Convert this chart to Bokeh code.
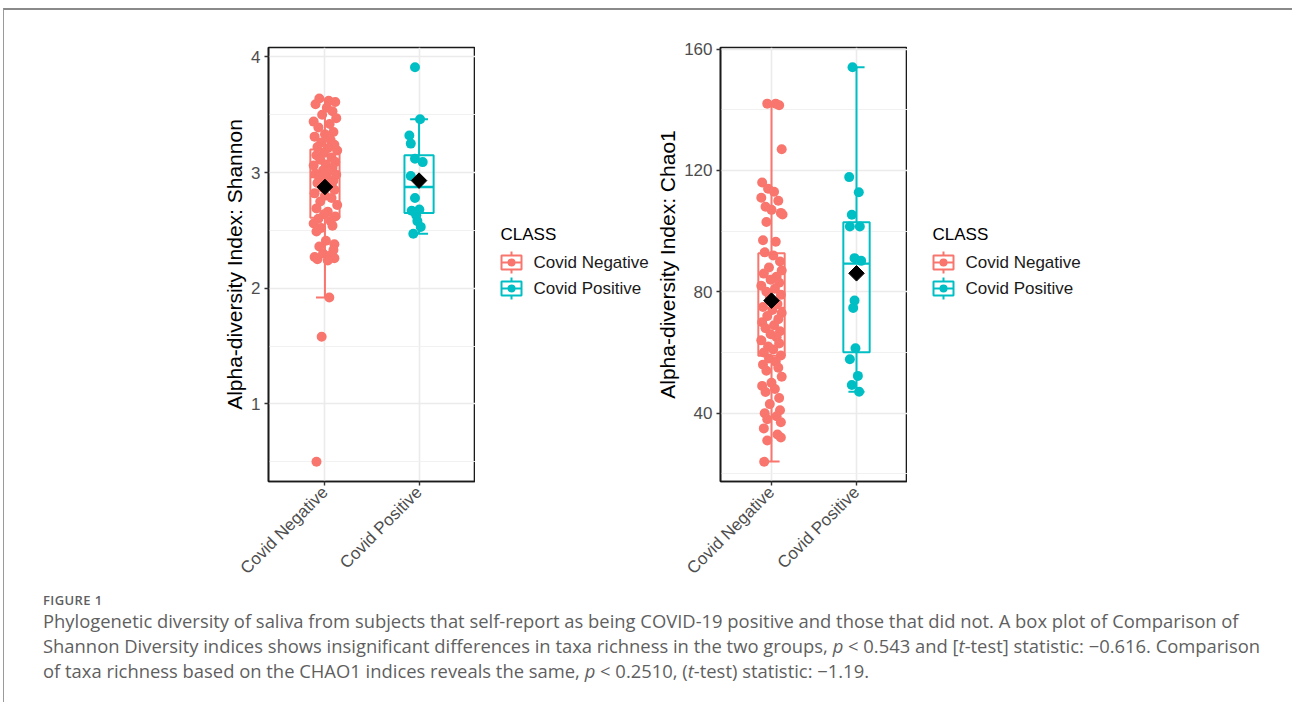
import numpy as np
from bokeh.plotting import figure
from bokeh.models import FixedTicker, Range1d, Div
from bokeh.core.properties import value
from bokeh.layouts import row, column
from bokeh.embed import file_html
from bokeh.resources import INLINE

# ---------------- data ----------------
categories = ["Covid Negative", "Covid Positive"]
colors = ["#F8766D", "#00BFC4"]
cat_x = [1, 2]
legend_title = "CLASS"

shannon_neg = [3.64, 3.62, 3.61, 3.59, 3.56, 3.53, 3.50, 3.47, 3.44, 3.42, 3.39, 3.35,
               3.33, 3.31, 3.28, 3.26, 3.24, 3.22, 3.21, 3.19, 3.17, 3.15, 3.13, 3.11,
               3.09, 3.07, 3.06, 3.04, 3.02, 3.01, 2.99, 2.98, 2.96, 2.95, 2.93, 2.91,
               2.89, 2.87, 2.85, 2.82, 2.80, 2.78, 2.75, 2.72, 2.69, 2.66, 2.64, 2.62,
               2.60, 2.58, 2.56, 2.54, 2.52, 2.49, 2.41, 2.38, 2.36, 2.33, 2.30, 2.28,
               2.27, 2.26, 2.25, 2.24, 1.92, 1.58, 0.50]
shannon_pos = [3.91, 3.46, 3.32, 3.25, 3.12, 3.09, 2.97, 2.78, 2.67, 2.68, 2.58, 2.53, 2.47, 2.63]

chao_neg = [142, 142, 141.5, 127, 116, 114, 113, 111, 110, 108, 107, 106, 105.5, 103,
            97, 96.5, 93, 92, 90, 88, 87, 86, 85, 84, 83, 82, 81, 80, 79, 78, 76, 75,
            74, 73, 72, 71, 70, 69, 68, 67, 66, 65, 64, 63, 62, 61, 60, 59, 58, 57,
            56, 55, 54, 52, 50, 49, 48, 47, 45, 43, 41, 40, 39, 38, 37, 35, 33, 32, 31, 24]
chao_pos = [154.0, 117.8, 112.8, 105.4, 101.5, 101.5, 91.1, 90.2, 77.1, 74.7, 61.4,
            57.8, 52.3, 49.3, 47.1]

# horizontal jitter offsets (category units)
jit_shannon_neg = [-0.06, 0.04, 0.11, -0.10, 0.02, 0.08, -0.03, 0.12, -0.12, 0.05, -0.07, 0.09,
                   0.00, -0.11, 0.06, -0.04, 0.10, -0.08, 0.03, 0.13, -0.01, -0.09, 0.07, -0.05,
                   0.11, 0.01, -0.12, 0.08, -0.02, 0.04, -0.10, 0.12, -0.06, 0.02, 0.09, -0.08,
                   0.05, -0.03, 0.10, -0.11, 0.00, 0.07, -0.05, 0.13, -0.09, 0.03, -0.01, 0.11,
                   -0.07, 0.06, -0.12, 0.08, -0.04, -0.09, 0.01, 0.10, -0.06, 0.09, -0.02, 0.05,
                   -0.11, 0.10, -0.08, 0.03, 0.046, -0.035, -0.09]
jit_shannon_pos = [-0.043, 0.011, -0.103, -0.088, -0.043, 0.039, -0.088, -0.043, -0.078,
                   0.003, -0.018, 0.018, -0.061, -0.03]
jit_chao_neg = [-0.05, 0.05, 0.09, 0.12, -0.11, -0.04, 0.03, -0.12, 0.08, -0.07, 0.00, 0.11,
                0.13, -0.06, -0.10, 0.05, -0.08, 0.02, 0.10, -0.03, 0.12, -0.09, 0.06, -0.01,
                0.09, -0.12, 0.04, -0.06, 0.11, -0.02, 0.07, -0.10, 0.01, 0.12, -0.05, 0.08,
                -0.11, 0.03, -0.07, 0.10, -0.01, 0.06, -0.12, 0.09, -0.04, 0.02, -0.09, 0.11,
                -0.03, 0.05, -0.10, 0.08, -0.06, 0.12, 0.00, -0.11, 0.04, -0.07, 0.09, -0.02,
                0.10, -0.08, 0.06, -0.05, 0.11, -0.09, 0.07, 0.11, -0.05, -0.086]
jit_chao_pos = [-0.047, -0.086, 0.027, -0.055, -0.078, 0.039, -0.023, 0.055, -0.023,
                -0.039, -0.012, -0.078, 0.016, -0.055, 0.031]

# box summaries: [negative, positive]
shannon_whisk_lo = [1.92, 2.47]
shannon_q1 = [2.61, 2.65]
shannon_median = [2.96, 2.875]
shannon_q3 = [3.20, 3.15]
shannon_whisk_hi = [3.63, 3.46]
shannon_mean = [2.875, 2.93]

chao_whisk_lo = [24.1, 47.1]
chao_q1 = [58.9, 60.1]
chao_median = [74.7, 89.3]
chao_q3 = [92.7, 102.9]
chao_whisk_hi = [141.9, 154.0]
chao_mean = [77.1, 86.1]

shannon_ticks = [1, 2, 3, 4]
shannon_minor = [0.5, 1.5, 2.5, 3.5]
chao_ticks = [40, 80, 120, 160]
chao_minor = [20, 60, 100, 140]

FONT = "Liberation Sans"
BOX_W = 0.31
CAP_W = 0.19
FRAME_H = 434


def make_panel(vals, jits, lo, q1, med, q3, hi, mean, ticks, minor, ylabel,
               frame_w, mbl):
    allv = vals[0] + vals[1]
    vmin, vmax = min(allv), max(allv)
    pad = 0.05 * (vmax - vmin)
    p = figure(frame_width=frame_w, frame_height=FRAME_H, x_range=Range1d(0.4, 2.6),
               y_range=Range1d(vmin - pad, vmax + pad),
               output_backend="svg", toolbar_location=None,
               min_border_left=mbl, min_border_right=0,
               min_border_top=37, min_border_bottom=100)
    p.background_fill_color = "white"
    p.border_fill_color = "white"
    p.outline_line_color = "#1a1a1a"
    p.outline_line_width = 1.6

    p.xaxis.ticker = FixedTicker(ticks=cat_x)
    p.xaxis.major_label_overrides = {1: categories[0], 2: categories[1]}
    p.xaxis.major_label_orientation = np.pi / 4
    p.yaxis.ticker = FixedTicker(ticks=ticks, minor_ticks=minor)
    p.yaxis.axis_label = ylabel
    for ax in (p.xaxis[0], p.yaxis[0]):
        ax.axis_line_color = "#1a1a1a"
        ax.axis_line_width = 1.6
        ax.major_tick_line_color = "#333333"
        ax.major_tick_line_width = 1.4
        ax.major_tick_out = 4
        ax.major_tick_in = 0
        ax.minor_tick_line_color = None
        ax.major_label_text_font = FONT
        ax.major_label_text_font_size = "17px"
        ax.major_label_text_color = "#4D4D4D"
        ax.axis_label_text_font = FONT
        ax.axis_label_text_font_size = "21px"
        ax.axis_label_text_font_style = "normal"
        ax.axis_label_text_color = "#000000"
        ax.major_label_standoff = 4
        ax.axis_label_standoff = 2

    p.xgrid.grid_line_color = "#EBEBEB"
    p.xgrid.grid_line_width = 1.6
    p.ygrid.grid_line_color = "#EBEBEB"
    p.ygrid.grid_line_width = 1.6
    p.ygrid.minor_grid_line_color = "#EFEFEF"
    p.ygrid.minor_grid_line_width = 0.9

    for i in range(2):
        c = cat_x[i]
        xs = [c + j for j in jits[i]]
        p.scatter(xs, vals[i], size=10, fill_color=colors[i], line_color=None)
        p.segment(x0=[c, c], y0=[lo[i], q3[i]], x1=[c, c], y1=[q1[i], hi[i]],
                  line_color=colors[i], line_width=2)
        p.segment(x0=[c - CAP_W / 2] * 2, y0=[lo[i], hi[i]], x1=[c + CAP_W / 2] * 2,
                  y1=[lo[i], hi[i]], line_color=colors[i], line_width=2)
        p.vbar(x=[c], width=BOX_W, bottom=[q1[i]], top=[q3[i]], fill_color=None,
               line_color=colors[i], line_width=2)
        p.segment(x0=[c - BOX_W / 2], y0=[med[i]], x1=[c + BOX_W / 2], y1=[med[i]],
                  line_color=colors[i], line_width=2.4)
        p.scatter([c], [mean[i]], marker="square", angle=np.pi / 4, size=11,
                  fill_color="black", line_color="black")
    return p


def make_legend_fig(width):
    """Legend strip whose frame lines up with the panels' frames.
    Ranges are in pixels, y measured downward from the frame top."""
    f = figure(frame_width=width, frame_height=FRAME_H,
               min_border_left=0, min_border_right=0,
               min_border_top=37, min_border_bottom=100,
               x_range=Range1d(0, width), y_range=Range1d(FRAME_H, 0),
               x_axis_location=None, y_axis_location=None,
               output_backend="svg", toolbar_location=None)
    f.outline_line_color = None
    f.grid.visible = False
    f.background_fill_color = "white"
    f.border_fill_color = "white"
    x0, kx, lx = 25, 36, 58          # title left, key centre, label left
    ty, ky = 187, [215, 241]         # title / key centres (px below frame top)
    f.text(x=[x0], y=[ty], text=[legend_title], text_font=value(FONT),
           text_font_size="17px", text_baseline="middle", text_align="left",
           text_color="#000000")
    for i in range(2):
        y = ky[i]
        f.segment(x0=[kx, kx], y0=[y - 11, y + 7], x1=[kx, kx], y1=[y - 7, y + 11],
                  line_color=colors[i], line_width=2)
        f.quad(left=[kx - 10], right=[kx + 10], top=[y - 7], bottom=[y + 7],
               fill_color="white", line_color=colors[i], line_width=2)
        f.segment(x0=[kx - 10], y0=[y], x1=[kx + 10], y1=[y], line_color=colors[i],
                  line_width=2)
        f.scatter([kx], [y], size=8, fill_color=colors[i], line_color=None)
        f.text(x=[lx], y=[y], text=[categories[i]], text_font=value(FONT),
               text_font_size="17px", text_baseline="middle", text_align="left",
               text_color="#1a1a1a")
    return f


p1 = make_panel([shannon_neg, shannon_pos], [jit_shannon_neg, jit_shannon_pos],
                shannon_whisk_lo, shannon_q1, shannon_median, shannon_q3,
                shannon_whisk_hi, shannon_mean, shannon_ticks, shannon_minor,
                "Alpha-diversity Index: Shannon", frame_w=207, mbl=264)
l1 = make_legend_fig(174)
p2 = make_panel([chao_neg, chao_pos], [jit_chao_neg, jit_chao_pos],
                chao_whisk_lo, chao_q1, chao_median, chao_q3, chao_whisk_hi,
                chao_mean, chao_ticks, chao_minor, "Alpha-diversity Index: Chao1",
                frame_w=187, mbl=71)
l2 = make_legend_fig(360)

caption_html = (
    "<div style=\"font-family:'Open Sans', sans-serif; color:#5f5f5f; padding-left:34px; "
    "white-space:nowrap;\">"
    "<div style='font-size:13px; font-weight:600; letter-spacing:0.4px; line-height:16px; "
    "margin-top:0px; margin-bottom:0px;'>FIGURE 1</div>"
    "<div style='font-size:18.4px; line-height:25px;'>"
    "Phylogenetic diversity of saliva from subjects that self-report as being COVID-19 positive "
    "and those that did not. A box plot of Comparison of<br>"
    "Shannon Diversity indices shows insignificant differences in taxa richness in the two groups, "
    "<i>p</i> &lt; 0.543 and [<i>t</i>-test] statistic: \u22120.616. Comparison<br>"
    "of taxa richness based on the CHAO1 indices reveals the same, <i>p</i> &lt; 0.2510, "
    "(<i>t</i>-test) statistic: \u22121.19.</div></div>"
)
cap = Div(text=caption_html, width=1288, height=112)

layout = column(row(p1, l1, p2, l2), cap,
                styles={"border-top": "2px solid #8a8a8a", "border-left": "1px solid #9a9a9a",
                        "margin-top": "8px", "margin-left": "3px"})

open("out.html", "w").write(file_html(layout, INLINE))
